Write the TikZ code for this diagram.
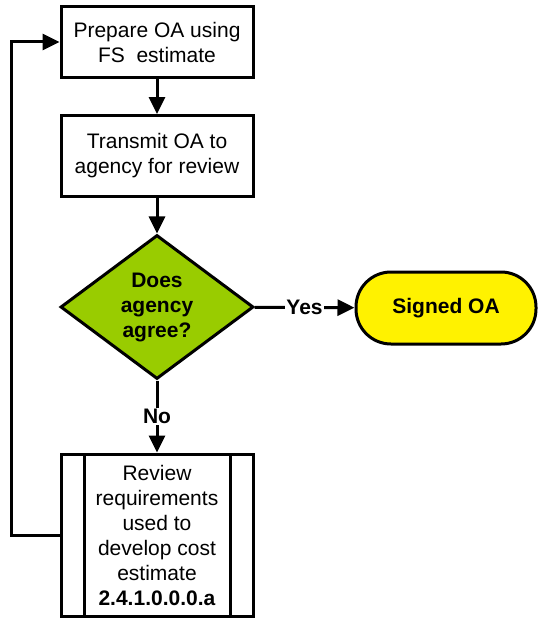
\documentclass[tikz,border=0pt]{standalone}
\usepackage{fontspec}
\setmainfont{Liberation Sans}
\usetikzlibrary{shapes, arrows.meta, positioning, calc}
\definecolor{decgreen}{HTML}{99CC00}

\begin{document}
\begin{tikzpicture}[
        x=1pt, y=-1pt,
        process/.style={rectangle, draw=black, line width=3pt, fill=white, minimum width=192pt, align=center, font=\fontsize{21}{25}\selectfont, inner sep=2pt},
        subproc/.style={process, path picture={
            \draw[line width=3pt] ([xshift=23pt]path picture bounding box.north west) -- ([xshift=23pt]path picture bounding box.south west);
            \draw[line width=3pt] ([xshift=-23pt]path picture bounding box.north east) -- ([xshift=-23pt]path picture bounding box.south east);}},
        decision/.style={diamond, draw=black, line width=3pt, fill=decgreen, minimum width=193pt, minimum height=144pt, inner sep=0pt, align=center, font=\fontsize{21}{25}\selectfont\bfseries},
        terminal/.style={rectangle, rounded corners=35pt, draw=black, line width=3pt, fill=yellow, minimum width=180pt, minimum height=72pt, align=center, font=\fontsize{21}{25}\selectfont\bfseries},
        arrow/.style={-{Triangle[length=17pt, width=16pt]}, line width=3pt, draw=black},
        label/.style={font=\fontsize{21}{25}\selectfont\bfseries, fill=white, inner sep=1pt}
    ]
        \useasboundingbox (0,0) rectangle (538,618);

        \node[process, minimum height=71pt] (prepare) at (157,42) {Prepare OA using\\FS\ \ estimate};
        \node[process, minimum height=81pt] (transmit) at (157,156) {Transmit OA to\\agency for review};
        \node[decision] (agree) at (157,307) {Does\\agency\\agree?};
        \node[terminal] (signed) at (446,308) {Signed OA};
        \node[subproc, minimum height=162pt] (review) at (157,535) {Review\\requirements\\used to\\develop cost\\estimate\\\textbf{2.4.1.0.0.0.a}};

        \draw[arrow] (prepare) -- (transmit);
        \draw[arrow] (transmit) -- (agree);
        \draw[arrow] (agree) -- (signed) node[midway, label] {Yes};
        \draw[arrow] (agree) -- (review) node[midway, label] {No};
        \draw[arrow] (review.west) -- ++(-48,0) |- (prepare.west);
    \end{tikzpicture}
\end{document}
